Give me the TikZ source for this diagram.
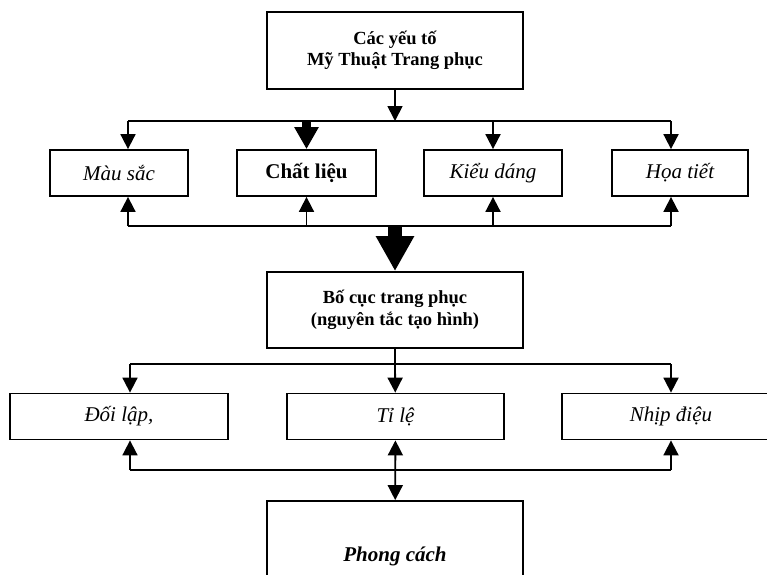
\documentclass[tikz,border=0pt]{standalone}
\usepackage{fontspec}
\setmainfont{Liberation Serif}
\usetikzlibrary{arrows.meta, positioning}

\begin{document}
\begin{tikzpicture} [x=1pt, y=-1pt, on grid, line width=1.8pt,
	box/.style ={draw, rectangle, line width=1.8pt, inner sep=0pt, align=center, minimum height=46pt},
	big/.style ={font=\fontsize{21}{24}\selectfont},
	small/.style ={font=\fontsize{18.5}{21.5}\selectfont\bfseries},
	arr/.style ={-{Triangle[length=15pt, width=15pt]}},
	arrtwo/.style ={{Triangle[length=15pt, width=15pt]}-{Triangle[length=15pt, width=15pt]}},
	thickarr/.style ={line width=9pt, -{Triangle[length=22pt, width=23pt]}},
	bigarr/.style ={line width=14pt, -{Triangle[length=35pt, width=36pt]}}]
	\useasboundingbox (0,0) rectangle (767,574);
	% khoi tren
	\node[box, small, minimum width=256pt, minimum height=77pt] (yeuto) at (395,50.5) {Các yếu tố\\Mỹ Thuật Trang phục};
	\node[box, big, minimum width=138pt] (mausac) at (119,173) {\itshape Màu sắc};
	\node[box, big, minimum width=139pt] (chatlieu) at (306.5,173) {\bfseries Chất liệu};
	\node[box, big, minimum width=138pt] (kieudang) at (493,173) {\itshape Kiểu dáng};
	\node[box, big, minimum width=136pt] (hoatiet) at (680,173) {\itshape Họa tiết};
	% khoi giua
	\node[box, small, minimum width=256pt, minimum height=76pt] (bocuc) [below=259.5pt of yeuto] {Bố cục trang phục\\(nguyên tắc tạo hình)};
	\node[box, big, minimum width=218pt] (doilap) at (119,416.5) {\itshape Đối lập,};
	\node[box, big, minimum width=217pt] (tile) at (395.5,416.5) {\itshape Tỉ lệ};
	\node[box, big, minimum width=218pt] (nhipdieu) at (671,416.5) {\itshape Nhịp điệu};
	\node[box, big, minimum width=256pt, minimum height=110pt] (phongcach) at (395,556) {\bfseries\itshape Phong cách};

	\coordinate (l1) at (128,121);
	\coordinate (r1) at (671,121);
	\coordinate (b1) at (395,121);
	\coordinate (l2) at (128,226);
	\coordinate (r2) at (671,226);
	\coordinate (b2) at (395,226);
	\coordinate (l3) at (130,364);
	\coordinate (r3) at (671,364);
	\coordinate (b3) at (395,364);
	\coordinate (l4) at (130,470);
	\coordinate (r4) at (671,470);

	\draw (l1) -- (r1);
	\draw[arr] (yeuto) -- (b1);
	\draw[arr] (l1) -- (l1 |- mausac.north);
	\draw[thickarr] (b1 -| chatlieu) -- (chatlieu);
	\draw[arr] (b1 -| kieudang) -- (kieudang);
	\draw[arr] (r1) -- (r1 |- hoatiet.north);

	\draw (l2) -- (r2);
	\draw[arr] (l2) -- (l2 |- mausac.south);
	\draw[arr] (b2 -| chatlieu) -- (chatlieu);
	\draw[arr] (b2 -| kieudang) -- (kieudang);
	\draw[arr] (r2) -- (r2 |- hoatiet.south);
	\draw[bigarr] (b2) -- (bocuc);

	\draw (bocuc) -- (b3);
	\draw (l3) -- (r3);
	\draw[arr] (l3) -- (l3 |- doilap.north);
	\draw[arr] (b3) -- (tile);
	\draw[arr] (r3) -- (nhipdieu);

	\draw (l4) -- (r4);
	\draw[arr] (l4) -- (l4 |- doilap.south);
	\draw[arr] (r4) -- (nhipdieu);
	\draw[arrtwo] (tile) -- (phongcach);
\end{tikzpicture}
\end{document}
